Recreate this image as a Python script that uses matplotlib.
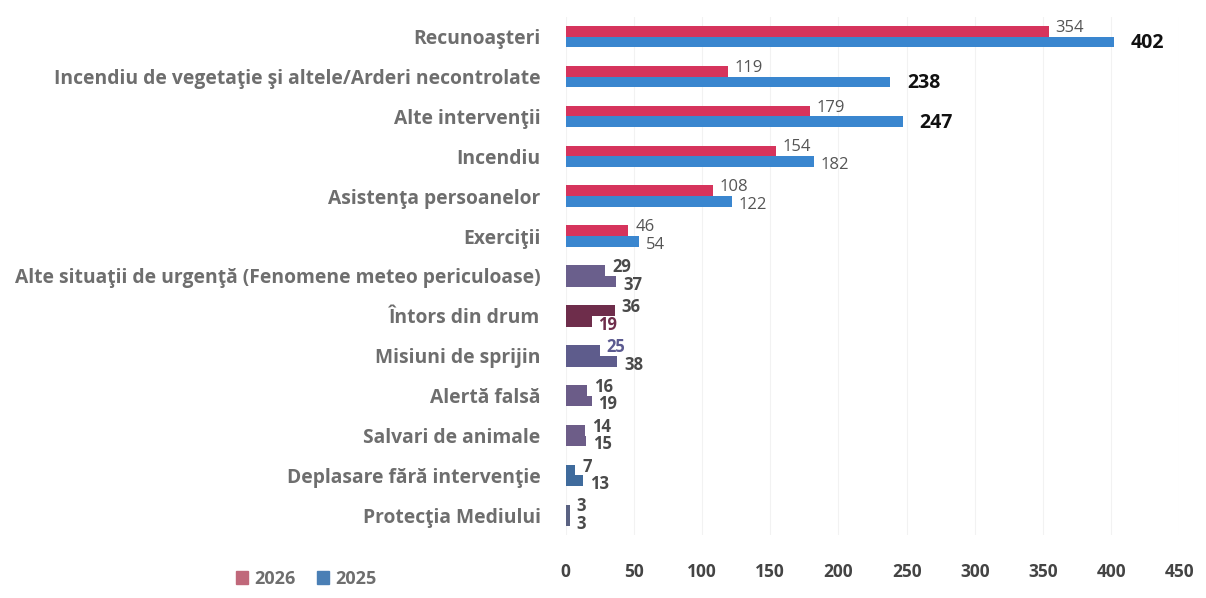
import matplotlib.pyplot as plt
from matplotlib.patches import Patch
import numpy as np

# categories, top to bottom
categories = [
    'Recunoaşteri',
    'Incendiu de vegetaţie şi altele/Arderi necontrolate',
    'Alte intervenţii',
    'Incendiu',
    'Asistenţa persoanelor',
    'Exerciţii',
    'Alte situaţii de urgenţă (Fenomene meteo periculoase)',
    'Întors din drum',
    'Misiuni de sprijin',
    'Alertă falsă',
    'Salvari de animale',
    'Deplasare fără intervenţie',
    'Protecţia Mediului',
]
values_2026 = [354, 119, 179, 154, 108, 46, 29, 36, 25, 16, 14, 7, 3]
values_2025 = [402, 238, 247, 182, 122, 54, 37, 19, 38, 19, 15, 13, 3]
xticks = [0, 50, 100, 150, 200, 250, 300, 350, 400, 450]

# styling
red = '#d6345c'
blue = '#3a86cf'
gray = '#6e6e6e'
# the lower rows look washed into one colour in the reference
row_colors = [None] * 6 + ['#6a5f8c', '#6e2d4b', '#5e5c8c', '#6b5c88',
                           '#6d5d88', '#3f6b9c', '#5a6282']
bold_2025 = {0, 1, 2}

plt.rcParams['font.family'] = ['Open Sans', 'DejaVu Sans']

fig = plt.figure(figsize=(12.06, 5.98), dpi=100)
ax = fig.add_axes([0.469, 0.105, 0.509, 0.867])

y = np.arange(len(categories))
h = 0.27
c26 = [c if c else red for c in row_colors]
c25 = [c if c else blue for c in row_colors]
ax.barh(y - h / 2, values_2026, height=h, color=c26, edgecolor='none')
ax.barh(y + h / 2, values_2025, height=h, color=c25, edgecolor='none')

for i in range(len(categories)):
    lc26 = '#555555'
    lc25 = '#555555'
    w = 'normal'
    if i >= 6:
        lc26 = lc25 = '#4a4a4a'
        w = 'bold'
    if i == 7:
        lc25 = '#6e2d4b'
    if i == 8:
        lc26 = '#5b5a90'
    ax.annotate(str(values_2026[i]), (values_2026[i], y[i] - h / 2),
                xytext=(5, 2.5), textcoords='offset points',
                ha='left', va='center', fontsize=12, color=lc26,
                fontweight=w)
    if i in bold_2025:
        ax.annotate(str(values_2025[i]), (values_2025[i], y[i] + h / 2),
                    xytext=(12, -1), textcoords='offset points',
                    ha='left', va='center', fontsize=14, color='#111111',
                    fontweight='bold')
    else:
        ax.annotate(str(values_2025[i]), (values_2025[i], y[i] + h / 2),
                    xytext=(5, -2.5), textcoords='offset points',
                    ha='left', va='center', fontsize=12, color=lc25,
                    fontweight=w)

ax.set_yticks(y)
ax.set_yticklabels(categories, fontsize=13.9, fontweight='bold', color=gray)
ax.set_ylim(len(categories) - 0.5, -0.5)
ax.set_xlim(0, 450)
ax.set_xticks(xticks)
ax.set_xticklabels([str(t) for t in xticks], fontsize=12.5,
                   fontweight='bold', color='#444444')
ax.tick_params(axis='both', length=0)
ax.tick_params(axis='x', pad=20)
ax.tick_params(axis='y', pad=18)
ax.grid(axis='x', color='#f2f2f2', linewidth=0.8)
ax.set_axisbelow(True)
for s in ax.spines.values():
    s.set_visible(False)

handles = [Patch(color='#c0687a', label='2026'),
           Patch(color='#4a7fb5', label='2025')]
fig.legend(handles=handles, loc='lower left', bbox_to_anchor=(0.182, -0.01),
           ncol=2, frameon=False, handlelength=0.7, handleheight=0.7,
           handletextpad=0.3, columnspacing=1.2,
           prop={'size': 13, 'weight': 'bold'}, labelcolor=gray)

fig.savefig('out.png', dpi=100)
